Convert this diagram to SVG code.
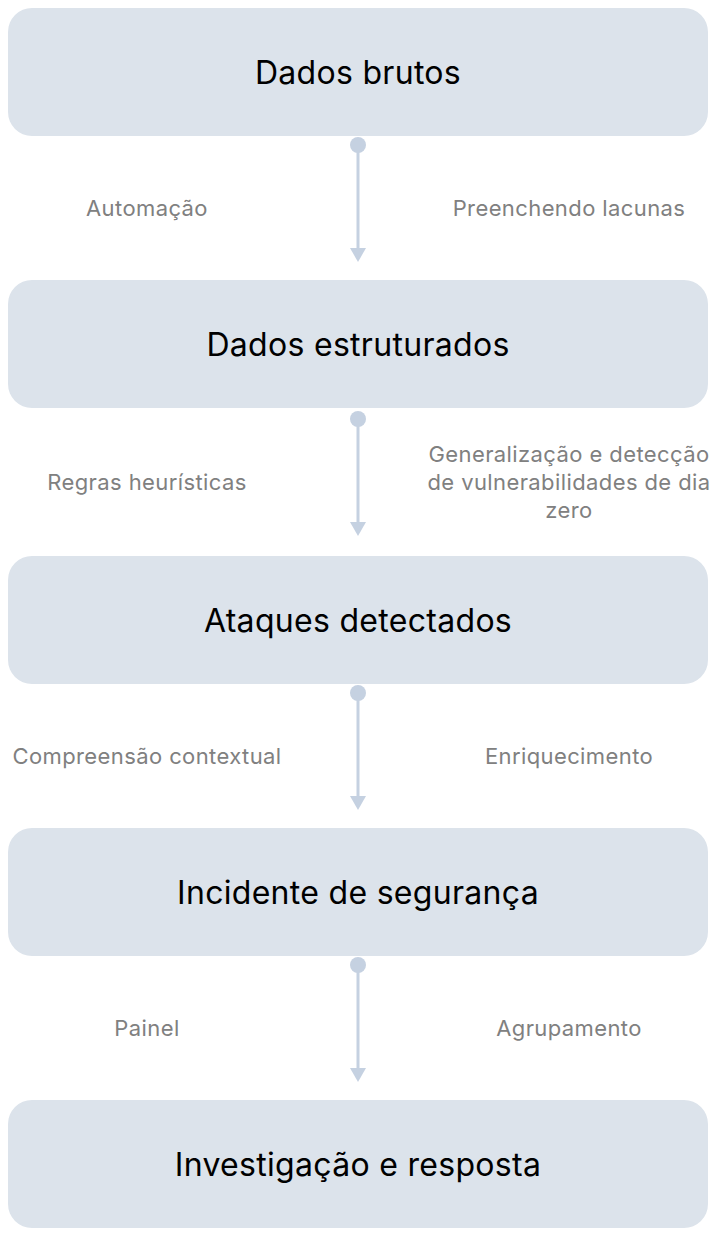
<svg xmlns="http://www.w3.org/2000/svg" width="716" height="1236" viewBox="0 0 716 1236">
<style>
.box{fill:#dce3eb}
.title{font-family:Inter,"Liberation Sans",sans-serif;font-size:32px;letter-spacing:0.3px;fill:#000;text-anchor:middle;dominant-baseline:central}
.lbl{font-family:Inter,"Liberation Sans",sans-serif;font-size:22px;letter-spacing:0.4px;fill:#808080;text-anchor:middle;dominant-baseline:central}
.ln{stroke:#c5d1e1;stroke-width:3;fill:none}
.dot{fill:#c5d1e1}
</style>
<rect width="716" height="1236" fill="#fff"/>
<g id="connectors">
<circle class="dot" cx="358" cy="145" r="8"/>
<line class="ln" x1="358" y1="145" x2="358" y2="248"/>
<path d="M350,248 L366,248 L358,262 Z" class="dot"/>
<circle class="dot" cx="358" cy="419" r="8"/>
<line class="ln" x1="358" y1="419" x2="358" y2="523"/>
<path d="M350,522 L366,522 L358,536 Z" class="dot"/>
<circle class="dot" cx="358" cy="693" r="8"/>
<line class="ln" x1="358" y1="693" x2="358" y2="797"/>
<path d="M350,796 L366,796 L358,810 Z" class="dot"/>
<circle class="dot" cx="358" cy="965" r="8"/>
<line class="ln" x1="358" y1="965" x2="358" y2="1069"/>
<path d="M350,1068 L366,1068 L358,1082 Z" class="dot"/>
<text class="lbl" x="147" y="208">Automação</text>
<text class="lbl" x="569" y="208">Preenchendo lacunas</text>
<text class="lbl" x="147" y="482">Regras heurísticas</text>
<text class="lbl" x="569" y="454">Generalização e detecção</text>
<text class="lbl" x="569" y="482">de vulnerabilidades de dia</text>
<text class="lbl" x="569" y="510">zero</text>
<text class="lbl" x="147" y="756">Compreensão contextual</text>
<text class="lbl" x="569" y="756">Enriquecimento</text>
<text class="lbl" x="147" y="1028">Painel</text>
<text class="lbl" x="569" y="1028">Agrupamento</text>
</g>
<g id="n1"><rect class="box" x="8" y="8" width="700" height="128" rx="24"/><text class="title" x="358" y="72">Dados brutos</text></g>
<g id="n2"><rect class="box" x="8" y="280" width="700" height="128" rx="24"/><text class="title" x="358" y="344">Dados estruturados</text></g>
<g id="n3"><rect class="box" x="8" y="556" width="700" height="128" rx="24"/><text class="title" x="358" y="620">Ataques detectados</text></g>
<g id="n4"><rect class="box" x="8" y="828" width="700" height="128" rx="24"/><text class="title" x="358" y="892">Incidente de segurança</text></g>
<g id="n5"><rect class="box" x="8" y="1100" width="700" height="128" rx="24"/><text class="title" x="358" y="1164">Investigação e resposta</text></g>
</svg>
